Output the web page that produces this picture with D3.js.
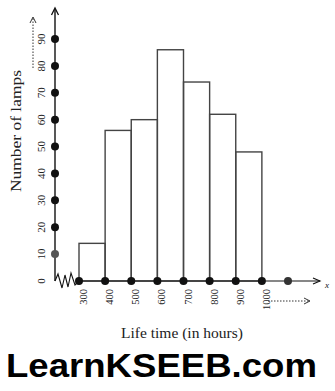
<!DOCTYPE html>
<html><head><meta charset="utf-8">
<script src="https://cdn.jsdelivr.net/npm/d3@7"></script>
<style>html,body{margin:0;padding:0;background:#fff;}svg{display:block;}</style>
</head><body>
<script>
const classStarts = [300, 400, 500, 600, 700, 800, 900];
const classWidth = 100;
const frequencies = [14, 56, 60, 86, 74, 62, 48];
const xTickValues = [300, 400, 500, 600, 700, 800, 900, 1000];
const xExtraDot = [1100];
const yTickValues = [0, 10, 20, 30, 40, 50, 60, 70, 80, 90];
const xTitle = "Life time (in hours)";
const yTitle = "Number of lamps";
const watermark = "LearnKSEEB.com";

const W = 335, H = 391;
const svg = d3.select("body").append("svg").attr("width", W).attr("height", H);
const x = d3.scaleLinear().domain([300, 1100]).range([79, 288]);
const y = d3.scaleLinear().domain([0, 90]).range([281, 39]);
const axisX = 55;
const ink = "#111";
const serif = "'Liberation Serif','DejaVu Serif',serif";

// bars
svg.append("g").selectAll("rect").data(frequencies).join("rect")
  .attr("x", (d, i) => x(classStarts[i]))
  .attr("y", d => y(d))
  .attr("width", (d, i) => x(classStarts[i] + classWidth) - x(classStarts[i]))
  .attr("height", d => y(0) - y(d))
  .attr("fill", "none").attr("stroke", "#444").attr("stroke-width", 1.4);

// y axis
svg.append("line").attr("x1", axisX).attr("x2", axisX).attr("y1", y(0)).attr("y2", 9)
  .attr("stroke", ink).attr("stroke-width", 1.4);
svg.append("path").attr("d", `M${axisX-3.5},${15} L${axisX},${8} L${axisX+3.5},${15}`)
  .attr("fill", "none").attr("stroke", ink).attr("stroke-width", 1.3);

// x axis
svg.append("line").attr("x1", x(300)).attr("x2", 320).attr("y1", y(0)).attr("y2", y(0))
  .attr("stroke", ink).attr("stroke-width", 1.2);
svg.append("path").attr("d", `M${313},${y(0)-3} L${320},${y(0)} L${313},${y(0)+3}`)
  .attr("fill", "none").attr("stroke", ink).attr("stroke-width", 1.1);
svg.append("text").attr("x", 325).attr("y", y(0) + 7).attr("font-family", serif)
  .attr("font-style", "italic").attr("font-size", 9).attr("fill", ink).text("x");

// zigzag break
const zig = [[55,281],[58,274],[62,288],[65,275],[68,287],[71,273],[75,285],[79,281]];
svg.append("path").attr("d", d3.line()(zig)).attr("fill", "none").attr("stroke", ink).attr("stroke-width", 1.1);

// y dots and labels
svg.append("g").selectAll("circle").data(yTickValues.filter(d => d > 0)).join("circle")
  .attr("cx", axisX).attr("cy", d => y(d)).attr("r", 4).attr("fill", d => d === 10 ? "#555" : ink);
svg.append("g").selectAll("text").data(yTickValues).join("text")
  .attr("transform", d => `translate(45,${y(d)}) rotate(-90)`)
  .attr("text-anchor", "middle").attr("font-family", serif).attr("font-size", 11).attr("fill", "#222")
  .text(d => d);

// x dots and labels
svg.append("g").selectAll("circle").data(xTickValues.concat(xExtraDot)).join("circle")
  .attr("cx", d => x(d)).attr("cy", y(0)).attr("r", 4).attr("fill", d => d === 1100 ? "#333" : ink);
svg.append("g").selectAll("text").data(xTickValues).join("text")
  .attr("transform", d => `translate(${x(d) + 8},${y(0) + 8}) rotate(-90)`)
  .attr("text-anchor", "end").attr("font-family", serif).attr("font-size", 10.5).attr("fill", "#222")
  .text(d => d);

// dotted arrows
const dash = "1.5,1.5";
svg.append("line").attr("x1", 33).attr("x2", 33).attr("y1", 68).attr("y2", 18)
  .attr("stroke", "#333").attr("stroke-width", 1).attr("stroke-dasharray", dash);
svg.append("path").attr("d", "M30,23 L33,17 L36,23").attr("fill", "none").attr("stroke", "#333").attr("stroke-width", 1);
svg.append("line").attr("x1", 268).attr("x2", 310).attr("y1", 301).attr("y2", 301)
  .attr("stroke", "#333").attr("stroke-width", 1).attr("stroke-dasharray", dash);
svg.append("path").attr("d", "M304,298 L310,301 L304,304").attr("fill", "none").attr("stroke", "#333").attr("stroke-width", 1);

// titles
svg.append("text").attr("x", 182).attr("y", 338).attr("text-anchor", "middle")
  .attr("font-family", serif).attr("font-size", 14).attr("fill", "#222")
  .attr("textLength", 122).attr("lengthAdjust", "spacingAndGlyphs").text(xTitle);
svg.append("text").attr("transform", "translate(21,131) rotate(-90)").attr("text-anchor", "middle")
  .attr("font-family", serif).attr("font-size", 14.5).attr("fill", "#222")
  .attr("textLength", 122).attr("lengthAdjust", "spacingAndGlyphs").text(yTitle);

// watermark
svg.append("text").attr("x", 6).attr("y", 377).attr("font-family", "'Liberation Sans', Arial, sans-serif")
  .attr("font-weight", "bold").attr("font-size", 33).attr("fill", "#000")
  .attr("textLength", 311).attr("lengthAdjust", "spacingAndGlyphs").text(watermark);
</script>
</body></html>
